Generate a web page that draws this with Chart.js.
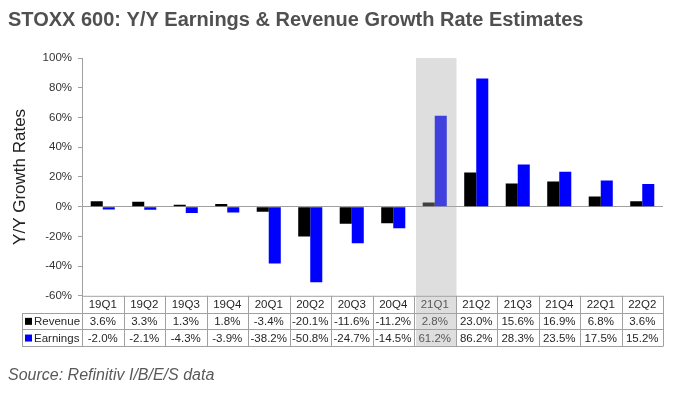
<!DOCTYPE html>
<html>
<head>
<meta charset="utf-8">
<script src="https://cdn.jsdelivr.net/npm/chart.js@4"></script>
<style>
  html, body { margin: 0; padding: 0; background: #fff; }
  #wrap { width: 676px; height: 393px; }
</style>
</head>
<body>
<div id="wrap"><canvas id="chart" width="676" height="393"></canvas></div>
<script>
/* ===== data ===== */
const quarters = ['19Q1','19Q2','19Q3','19Q4','20Q1','20Q2','20Q3','20Q4','21Q1','21Q2','21Q3','21Q4','22Q1','22Q2'];
const revenue  = [3.6, 3.3, 1.3, 1.8, -3.4, -20.1, -11.6, -11.2, 2.8, 23.0, 15.6, 16.9, 6.8, 3.6];
const earnings = [-2.0, -2.1, -4.3, -3.9, -38.2, -50.8, -24.7, -14.5, 61.2, 86.2, 28.3, 23.5, 17.5, 15.2];
const yTicks = [-60, -40, -20, 0, 20, 40, 60, 80, 100];
const highlightIdx = 8; // 21Q1, shaded column

const FONT = "'Liberation Sans', Arial, sans-serif";
const GRID = '#a0a0a0';

/* data table under the plot + grey band over 21Q1 */
const tablePlugin = {
  id: 'dataTable',
  afterDatasetsDraw(chart) {
    const ctx = chart.ctx;
    const x = chart.scales.x;
    const area = chart.chartArea;
    const half = (x.getPixelForValue(1) - x.getPixelForValue(0)) / 2;
    const rowH = 16.7;
    const top = area.bottom;
    const bottom = top + rowH * 3;
    const labelLeft = 22;

    ctx.save();
    ctx.strokeStyle = GRID;
    ctx.lineWidth = 1;
    ctx.beginPath();
    // horizontal lines
    ctx.moveTo(area.left, top + 0.5); ctx.lineTo(area.right, top + 0.5);
    for (let r = 1; r <= 3; r++) {
      const yy = Math.round(top + rowH * r) + 0.5;
      ctx.moveTo(labelLeft, yy); ctx.lineTo(area.right, yy);
    }
    // vertical lines
    ctx.moveTo(labelLeft + 0.5, Math.round(top + rowH)); ctx.lineTo(labelLeft + 0.5, Math.round(bottom) + 0.5);
    for (let i = 0; i <= quarters.length; i++) {
      const xx = Math.round(x.getPixelForValue(0) - half + i * half * 2) + 0.5;
      ctx.moveTo(xx, top); ctx.lineTo(xx, Math.round(bottom) + 0.5);
    }
    ctx.stroke();

    ctx.font = '11.5px ' + FONT;
    ctx.fillStyle = '#262626';
    ctx.textAlign = 'center';
    ctx.textBaseline = 'middle';
    quarters.forEach((q, i) => {
      const cx = x.getPixelForValue(i);
      ctx.fillText(q, cx, top + rowH * 0.5 + 1);
      ctx.fillText(revenue[i].toFixed(1) + '%', cx, top + rowH * 1.5 + 1);
      ctx.fillText(earnings[i].toFixed(1) + '%', cx, top + rowH * 2.5 + 1);
    });

    // series labels with colour keys
    ctx.textAlign = 'left';
    ctx.fillStyle = '#000';
    ctx.fillRect(25, top + rowH * 1.5 - 3, 7, 7);
    ctx.fillStyle = '#0000ff';
    ctx.fillRect(25, top + rowH * 2.5 - 3, 7, 7);
    ctx.fillStyle = '#262626';
    ctx.fillText('Revenue', 34, top + rowH * 1.5 + 1);
    ctx.fillText('Earnings', 34, top + rowH * 2.5 + 1);

    // shaded column
    const bx = x.getPixelForValue(highlightIdx);
    const yTop = chart.scales.y.getPixelForValue(100);
    ctx.fillStyle = 'rgba(168,168,168,0.38)';
    ctx.fillRect(bx - half + 2, yTop, half * 2 - 1, bottom - yTop);
    ctx.restore();
  }
};

new Chart(document.getElementById('chart'), {
  type: 'bar',
  data: {
    labels: quarters,
    datasets: [
      { label: 'Revenue', data: revenue, backgroundColor: '#000000' },
      { label: 'Earnings', data: earnings, backgroundColor: '#0000ff' }
    ]
  },
  options: {
    responsive: false,
    animation: false,
    events: [],
    layout: { padding: { left: 8, right: 13, top: 0, bottom: 0 } },
    datasets: { bar: { barPercentage: 1.0, categoryPercentage: 0.58 } },
    plugins: {
      legend: { display: false },
      tooltip: { enabled: false },
      title: {
        display: true,
        text: 'STOXX 600: Y/Y Earnings & Revenue Growth Rate Estimates',
        align: 'start',
        color: '#505050',
        font: { family: FONT, size: 20, weight: 'bold' },
        padding: { top: 8, bottom: 26 }
      },
      subtitle: {
        display: true,
        position: 'bottom',
        text: 'Source: Refinitiv I/B/E/S data',
        align: 'start',
        color: '#595959',
        font: { family: FONT, size: 16, style: 'italic' },
        padding: { top: 70, bottom: 8 }
      }
    },
    scales: {
      x: { display: false },
      y: {
        min: -60,
        max: 100,
        afterBuildTicks: s => { s.ticks = yTicks.map(v => ({ value: v })); },
        afterFit: s => { s.width = 74; },
        ticks: {
          callback: v => v + '%',
          color: '#333',
          font: { family: FONT, size: 11.5 },
          padding: 6
        },
        grid: {
          color: c => (c.tick && c.tick.value === 0 ? GRID : 'rgba(0,0,0,0)'),
          tickColor: GRID,
          tickLength: 4
        },
        border: { color: GRID },
        title: {
          display: true,
          text: 'Y/Y Growth Rates',
          color: '#222',
          font: { family: FONT, size: 17 },
          padding: { top: 2, bottom: 0 }
        }
      }
    }
  },
  plugins: [tablePlugin]
});
</script>
</body>
</html>
